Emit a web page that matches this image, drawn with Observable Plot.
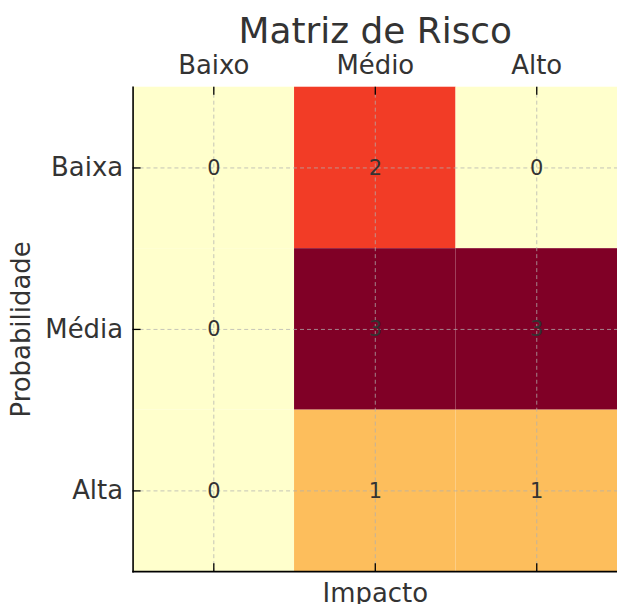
<!DOCTYPE html>
<html>
<head>
<meta charset="utf-8">
<script src="https://cdn.jsdelivr.net/npm/d3@7"></script>
<script src="https://cdn.jsdelivr.net/npm/@observablehq/plot@0.6"></script>
<style>
  html, body { margin: 0; padding: 0; background: #fff; overflow: hidden; }
  #chart svg { display: block; }
</style>
</head>
<body>
<div id="chart"></div>
<script>
const impacto = ["Baixo", "Médio", "Alto"];
const probabilidade = ["Baixa", "Média", "Alta"];
const valores = [
  [0, 2, 0],
  [0, 3, 3],
  [0, 1, 1]
];
const cores = ["#ffffcc", "#fdbe5c", "#f23c26", "#800026"];

const data = [];
probabilidade.forEach((p, i) => impacto.forEach((im, j) => data.push({p, im, v: valores[i][j]})));

const font = "DejaVu Sans";
const ink = "#333333";

const chart = Plot.plot({
  width: 619,
  height: 606,
  marginLeft: 133,
  marginRight: 0,
  marginTop: 87,
  marginBottom: 33,
  style: {fontFamily: font, background: "#fff", color: ink, overflow: "visible"},
  x: {domain: impacto, padding: 0, label: null},
  y: {domain: probabilidade, padding: 0, label: null},
  color: {type: "ordinal", domain: [0, 1, 2, 3], range: cores},
  marks: [
    Plot.cell(data, {x: "im", y: "p", fill: "v"}),
    Plot.gridX({stroke: "#b0b0b0", strokeOpacity: 0.75, strokeDasharray: "4,3", strokeWidth: 1}),
    Plot.gridY({stroke: "#b0b0b0", strokeOpacity: 0.75, strokeDasharray: "4,3", strokeWidth: 1}),
    Plot.text(data, {x: "im", y: "p", text: d => String(d.v), fill: ink, fontSize: 21}),
    // inward tick marks
    Plot.tickX(impacto, {x: d => d, y: () => "Baixa", insetBottom: 154, stroke: "#000", strokeWidth: 1.3}),
    Plot.tickX(impacto, {x: d => d, y: () => "Alta", insetTop: 154, stroke: "#000", strokeWidth: 1.3}),
    Plot.tickY(probabilidade, {y: d => d, x: () => "Baixo", insetRight: 154, stroke: "#000", strokeWidth: 1.3}),
    Plot.frame({anchor: "left", stroke: "#000", strokeWidth: 1.6}),
    Plot.frame({anchor: "bottom", stroke: "#000", strokeWidth: 1.6}),
    Plot.axisX({anchor: "top", tickSize: 0, tickPadding: 13, fontSize: 26, fill: ink, label: null}),
    Plot.axisY({anchor: "left", tickSize: 0, tickPadding: 10, fontSize: 26, fill: ink,
      label: "Probabilidade", labelAnchor: "center", labelOffset: 122, labelArrow: "none"}),
    Plot.text(["Impacto"], {frameAnchor: "bottom", dy: 30, fontSize: 26, fill: ink}),
    Plot.text(["Matriz de Risco"], {frameAnchor: "top", dy: -70, fontSize: 36, fill: ink})
  ]
});
document.getElementById("chart").appendChild(chart);
</script>
</body>
</html>
